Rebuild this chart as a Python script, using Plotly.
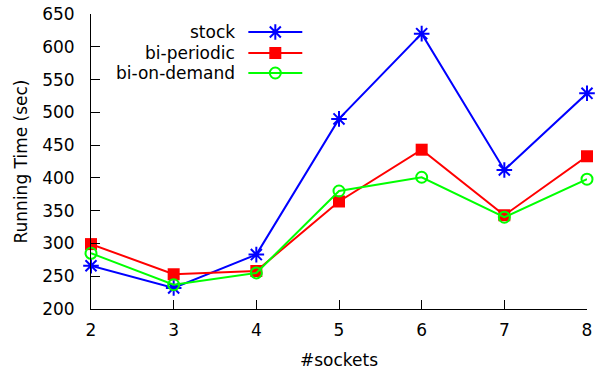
import plotly.graph_objects as go

# Running time (seconds) per number of sockets
sockets = [2, 3, 4, 5, 6, 7, 8]
stock = [266, 232, 283, 490, 620, 412, 529]
bi_periodic = [299, 253, 258, 364, 443, 343, 433]
bi_on_demand = [285, 237, 255, 380, 401, 340, 398]

series_names = ["stock", "bi-periodic", "bi-on-demand"]
series_colors = ["#0000ff", "#ff0000", "#00ff00"]
y_ticks = [200, 250, 300, 350, 400, 450, 500, 550, 600, 650]
x_ticks = [2, 3, 4, 5, 6, 7, 8]

FONT = "DejaVu Sans"
FS = 17

markers = [
    dict(symbol="asterisk-open", size=13, line=dict(width=2, color=series_colors[0]), color=series_colors[0]),
    dict(symbol="square", size=12, color=series_colors[1], line=dict(width=0)),
    dict(symbol="circle-open", size=11, line=dict(width=2, color=series_colors[2]), color=series_colors[2]),
]

fig = go.Figure()
for name, vals, color, mk in zip(series_names, [stock, bi_periodic, bi_on_demand], series_colors, markers):
    fig.add_trace(go.Scatter(
        x=sockets, y=vals, mode="lines+markers", name=name,
        line=dict(color=color, width=2), marker=mk, showlegend=False,
        cliponaxis=False,
    ))

# Key: labels right-aligned, sample line with marker to their right
# drawn on an overlay axis measured in pixels of the plot area
key_rows = [32, 53, 73]
key_text_x = 237
key_line = (248, 302)
for name, color, mk, ky in zip(series_names, series_colors, markers, key_rows):
    fig.add_trace(go.Scatter(
        x=[key_line[0], key_line[1]], y=[ky, ky], mode="lines",
        line=dict(color=color, width=2), xaxis="x2", yaxis="y2",
        showlegend=False, hoverinfo="skip", cliponaxis=False,
    ))
    fig.add_trace(go.Scatter(
        x=[(key_line[0] + key_line[1]) / 2], y=[ky], mode="markers",
        marker=mk, xaxis="x2", yaxis="y2",
        showlegend=False, hoverinfo="skip", cliponaxis=False,
    ))
    fig.add_annotation(
        x=key_text_x, y=ky, xref="x2", yref="y2", text=name,
        showarrow=False, xanchor="right", yanchor="middle",
        font=dict(family=FONT, size=FS, color="black"),
    )

L, R, T, B = 90.5, 587, 14, 309

fig.update_layout(
    width=603, height=371,
    margin=dict(l=L, r=603 - R, t=T, b=371 - B),
    paper_bgcolor="white", plot_bgcolor="white",
    font=dict(family=FONT, size=FS, color="black"),
    xaxis=dict(
        range=[2, 8], tickvals=x_ticks, ticks="inside", ticklen=9,
        tickwidth=1, tickcolor="black", showline=True, linecolor="black",
        linewidth=1, showgrid=False, zeroline=False, ticklabelstandoff=6,
        automargin=False,
        title=dict(text="#sockets", standoff=14, font=dict(family=FONT, size=FS)),
    ),
    yaxis=dict(
        range=[200, 650], tickvals=y_ticks, ticks="inside", ticklen=9,
        tickwidth=1, tickcolor="black", showline=True, linecolor="black",
        linewidth=1, showgrid=False, zeroline=False, ticklabelstandoff=12,
        automargin=False,
        title=dict(text="Running Time (sec)", standoff=10, font=dict(family=FONT, size=FS)),
    ),
    xaxis2=dict(range=[L, R], overlaying="x", visible=False, fixedrange=True),
    yaxis2=dict(range=[B, T], overlaying="y", visible=False, fixedrange=True),
)

fig.write_html("out.html")
